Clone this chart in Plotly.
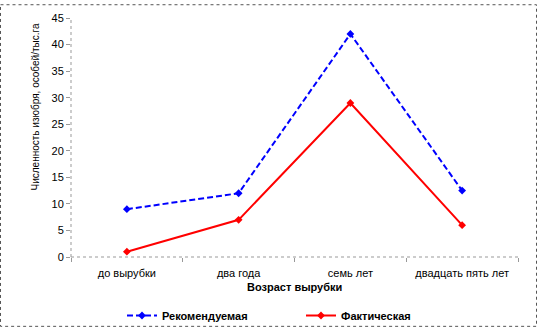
import plotly.graph_objects as go

categories = ["до вырубки", "два года", "семь лет", "двадцать пять лет"]
recommended = [9, 12, 42, 12.5]
actual = [1, 7, 29, 6]
series_names = ["Рекомендуемая", "Фактическая"]
y_title = "Численность изюбря, особей/тыс.га"
x_title = "Возраст вырубки"

L, R, T, B = 71, 21, 14, 72
W, H = 539, 329
pw, ph = W - L - R, H - T - B

def px_x(p):
    return (p - L) / pw

def px_y(p):
    return (H - B - p) / ph

FAM = "Liberation Sans, Arial, sans-serif"

fig = go.Figure()
fig.add_trace(go.Scatter(
    x=categories, y=recommended, name=series_names[0], mode="lines+markers",
    line=dict(color="#0000FF", width=2, dash="6px,3px"),
    marker=dict(symbol="diamond", size=6, color="#0000FF"),
))
fig.add_trace(go.Scatter(
    x=categories, y=actual, name=series_names[1], mode="lines+markers",
    line=dict(color="#FF0000", width=2),
    marker=dict(symbol="diamond", size=6, color="#FF0000"),
))

font = dict(family=FAM, size=11, color="#000000")

shapes = [
    dict(type="rect", xref="paper", yref="paper",
         x0=px_x(0.5), x1=px_x(536.5), y0=px_y(0.5), y1=px_y(327.5),
         line=dict(color="#555555", width=1, dash="dot")),
    dict(type="line", xref="paper", yref="paper", x0=0, x1=0, y0=0, y1=1,
         line=dict(color="#999999", width=1, dash="dot")),
    dict(type="line", xref="paper", yref="paper", x0=0, x1=1, y0=0, y1=0,
         line=dict(color="#999999", width=1, dash="dot")),
]

annotations = [
    dict(text=y_title, textangle=-90, xref="paper", yref="paper",
         x=px_x(36), y=px_y(105), xanchor="center", yanchor="middle",
         showarrow=False, font=dict(family=FAM, size=10, color="#000000")),
    dict(text="<b>" + x_title + "</b>", xref="paper", yref="paper",
         x=0.5, y=px_y(287), xanchor="center", yanchor="middle",
         showarrow=False, font=dict(family=FAM, size=11, color="#000000")),
]

fig.update_layout(
    width=W, height=H,
    margin=dict(l=L, r=R, t=T, b=B),
    paper_bgcolor="white", plot_bgcolor="white",
    font=font,
    showlegend=True,
    legend=dict(orientation="h", xref="container", yref="container",
                x=122 / W, y=1 - 301 / H, xanchor="left", yanchor="top",
                font=dict(family=FAM, size=11, color="#000000", weight="bold"),
                itemwidth=30,
                entrywidth=134, entrywidthmode="pixels", bgcolor="rgba(0,0,0,0)"),
    shapes=shapes,
    annotations=annotations,
    xaxis=dict(
        type="category", tickson="boundaries", ticks="outside", ticklen=4,
        tickcolor="#999999", showgrid=False, showline=False, zeroline=False,
        tickfont=font, ticklabelstandoff=8,
        range=[-0.5, 3.5],
    ),
    yaxis=dict(
        range=[0, 45], dtick=5, tick0=0, ticks="outside", ticklen=4,
        tickcolor="#999999", showgrid=False, showline=False, zeroline=False,
        tickfont=font,
    ),
)

fig.write_html("out.html")
